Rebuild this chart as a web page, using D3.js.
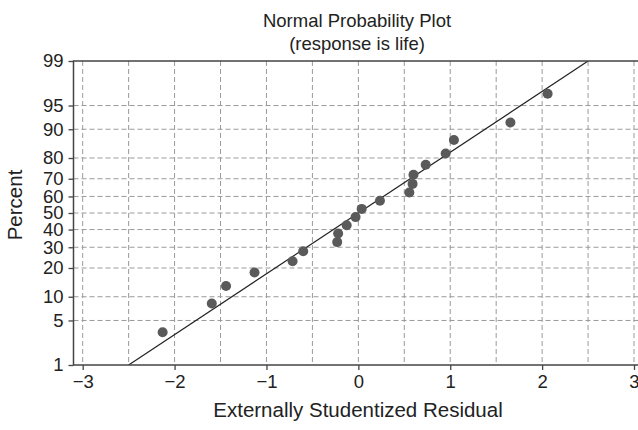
<!DOCTYPE html>
<html>
<head>
<meta charset="utf-8">
<script src="https://cdn.jsdelivr.net/npm/d3@7"></script>
<style>
  html, body { margin: 0; padding: 0; background: #fff; }
  svg { display: block; font-family: "Liberation Sans", Arial, Helvetica, sans-serif; }
</style>
</head>
<body>
<svg id="chart" width="638" height="430"></svg>
<script>
// ---- data ----
const residuals = [-2.13, -1.595, -1.44, -1.13, -0.716, -0.60, -0.23, -0.22, -0.127, -0.03,
                   0.036, 0.235, 0.555, 0.59, 0.60, 0.733, 0.95, 1.04, 1.655, 2.06];
const percents  = [3.4, 8.3, 13.2, 18.1, 23.0, 27.9, 32.8, 37.7, 42.6, 47.5,
                   52.5, 57.4, 62.3, 67.2, 72.1, 77.0, 81.9, 86.8, 91.7, 96.6];
const fitX   = [-2.5, 2.5];
const fitPct = [1, 99];
const yTicks = [1, 5, 10, 20, 30, 40, 50, 60, 70, 80, 90, 95, 99];
const xTicks = [-3, -2, -1, 0, 1, 2, 3];
const xGrid  = [-3, -2.5, -2, -1.5, -1, -0.5, 0, 0.5, 1, 1.5, 2, 2.5, 3];
const titleText = "Normal Probability Plot";
const subtitleText = "(response is life)";
const xLabel = "Externally Studentized Residual";
const yLabel = "Percent";

(function () {
// ---- layout ----
const svg = d3.select("#chart");
const pLeft = 73.5, pTop = 61, pBottom = 365, pRight = 643.2;
const textColor = "#222";

// normal quantile (Acklam approximation)
function probit(p) {
  const a = [-3.969683028665376e+01, 2.209460984245205e+02, -2.759285104469687e+02, 1.383577518672690e+02, -3.066479806614716e+01, 2.506628277459239e+00];
  const b = [-5.447609879822406e+01, 1.615858368580409e+02, -1.556989798598866e+02, 6.680131188771972e+01, -1.328068155288572e+01];
  const c = [-7.784894002430293e-03, -3.223964580411365e-01, -2.400758277161838e+00, -2.549732539343734e+00, 4.374664141464968e+00, 2.938163982698783e+00];
  const d = [7.784695709041462e-03, 3.224671290700398e-01, 2.445134137142996e+00, 3.754408661907416e+00];
  const pl = 0.02425, ph = 1 - pl;
  let q, r;
  if (p < pl) { q = Math.sqrt(-2 * Math.log(p)); return (((((c[0]*q+c[1])*q+c[2])*q+c[3])*q+c[4])*q+c[5]) / ((((d[0]*q+d[1])*q+d[2])*q+d[3])*q+1); }
  if (p <= ph) { q = p - 0.5; r = q*q; return (((((a[0]*r+a[1])*r+a[2])*r+a[3])*r+a[4])*r+a[5])*q / (((((b[0]*r+b[1])*r+b[2])*r+b[3])*r+b[4])*r+1); }
  q = Math.sqrt(-2 * Math.log(1 - p)); return -(((((c[0]*q+c[1])*q+c[2])*q+c[3])*q+c[4])*q+c[5]) / ((((d[0]*q+d[1])*q+d[2])*q+d[3])*q+1);
}

const x = d3.scaleLinear().domain([-3.1, 3.1]).range([pLeft, pRight]);
const zScale = d3.scaleLinear().domain([probit(0.01), probit(0.99)]).range([pBottom, pTop]);
const y = pct => zScale(probit(pct / 100));

// title
svg.append("text").attr("x", 357).attr("y", 27).attr("text-anchor", "middle")
  .attr("font-size", 18.5).attr("fill", textColor).text(titleText);
svg.append("text").attr("x", 357).attr("y", 50).attr("text-anchor", "middle")
  .attr("font-size", 18.5).attr("fill", textColor).text(subtitleText);

// clip
svg.append("defs").append("clipPath").attr("id", "plotclip")
  .append("rect").attr("x", pLeft).attr("y", pTop).attr("width", pRight - pLeft).attr("height", pBottom - pTop);

const grid = svg.append("g").attr("stroke", "#9a9a9a").attr("stroke-width", 1).attr("stroke-dasharray", "5,3");
grid.selectAll("line.v").data(xGrid).join("line").attr("class", "v")
  .attr("x1", d => x(d)).attr("x2", d => x(d)).attr("y1", pTop).attr("y2", pBottom);
grid.selectAll("line.h").data(yTicks.filter(t => t !== 1 && t !== 99)).join("line").attr("class", "h")
  .attr("x1", pLeft).attr("x2", pRight).attr("y1", d => y(d)).attr("y2", d => y(d));

// fitted line
const line = d3.line().x(d => x(d[0])).y(d => y(d[1]));
svg.append("path").datum(fitX.map((v, i) => [v, fitPct[i]]))
  .attr("clip-path", "url(#plotclip)")
  .attr("d", line).attr("fill", "none").attr("stroke", "#222").attr("stroke-width", 1.2);

// points
svg.append("g").selectAll("circle").data(residuals).join("circle")
  .attr("cx", d => x(d)).attr("cy", (d, i) => y(percents[i])).attr("r", 5)
  .attr("fill", "#5a5a5a");

// frame
svg.append("rect").attr("x", pLeft).attr("y", pTop).attr("width", pRight - pLeft).attr("height", pBottom - pTop)
  .attr("fill", "none").attr("stroke", "#444").attr("stroke-width", 1.5);

// axes
const xAxis = svg.append("g").attr("transform", `translate(0,${pBottom})`)
  .call(d3.axisBottom(x).tickValues(xTicks).tickSize(5).tickPadding(5).tickFormat(d3.format("d")));
xAxis.select(".domain").remove();
xAxis.selectAll("line").attr("stroke", "#444").attr("stroke-width", 1.3);
xAxis.selectAll("text").attr("font-size", 18.5).attr("fill", textColor).attr("font-family", "Liberation Sans, Arial, sans-serif");

const yAxis = svg.append("g").attr("transform", `translate(${pLeft},0)`)
  .call(d3.axisLeft(zScale).tickValues(yTicks.map(t => probit(t / 100))).tickSize(5).tickPadding(5)
        .tickFormat((d, i) => yTicks[i]));
yAxis.select(".domain").remove();
yAxis.selectAll("line").attr("stroke", "#444").attr("stroke-width", 1.3);
yAxis.selectAll("text").attr("font-size", 18.5).attr("fill", textColor).attr("font-family", "Liberation Sans, Arial, sans-serif");

// axis labels
svg.append("text").attr("x", 358).attr("y", 417).attr("text-anchor", "middle")
  .attr("font-size", 20.5).attr("fill", textColor).text(xLabel);
svg.append("text").attr("transform", `translate(22,${205}) rotate(-90)`).attr("text-anchor", "middle")
  .attr("font-size", 20.5).attr("fill", textColor).text(yLabel);
})();
</script>
</body>
</html>
